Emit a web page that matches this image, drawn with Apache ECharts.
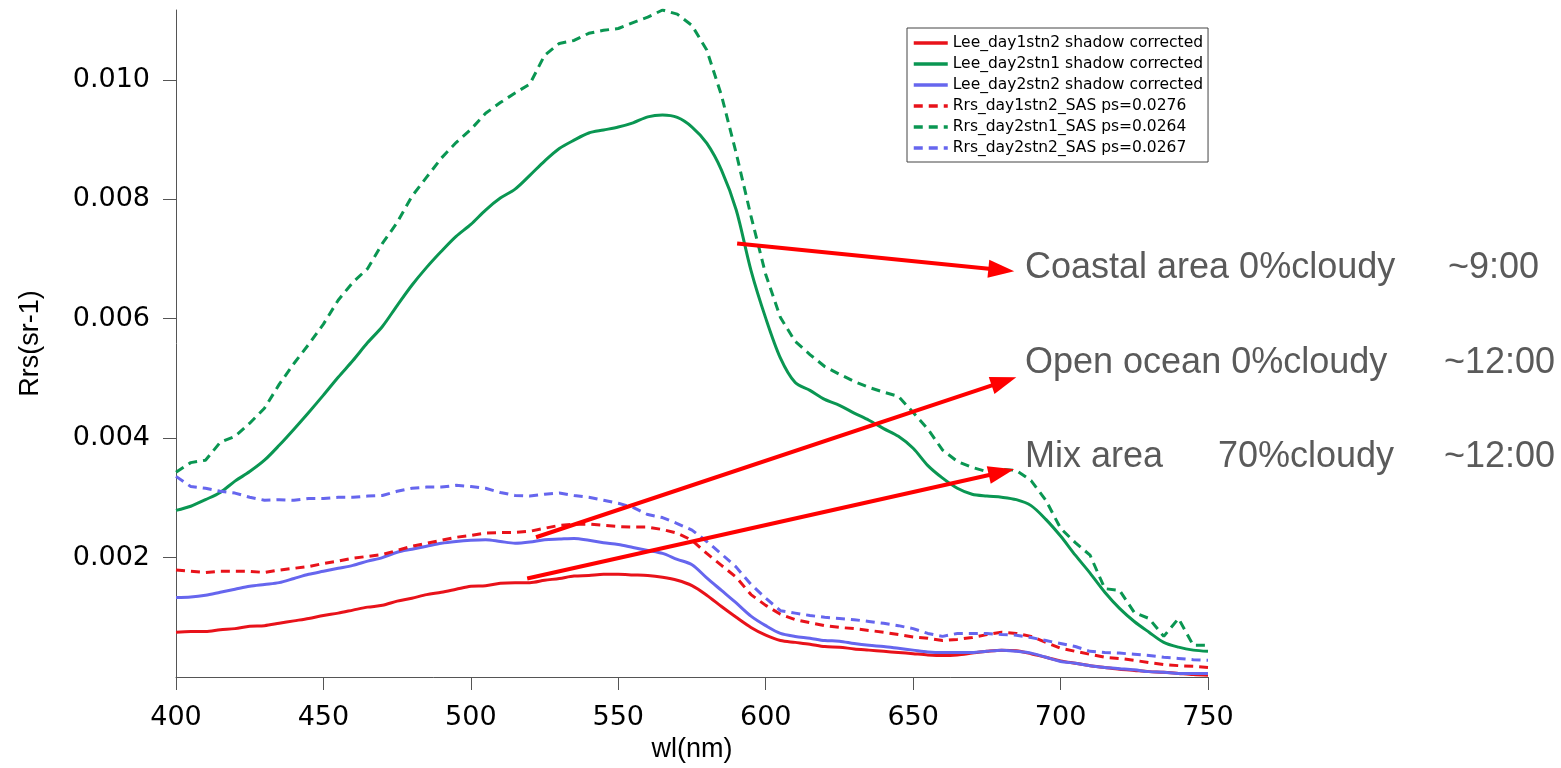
<!DOCTYPE html>
<html>
<head>
<meta charset="utf-8">
<script src="https://cdn.jsdelivr.net/npm/echarts@6/dist/echarts.min.js"></script>
<style>
html,body{margin:0;padding:0;background:#ffffff;}
#chart{width:1561px;height:768px;}
</style>
</head>
<body>
<div id="chart"></div>
<script>
// ---------------- data ----------------
const wavelengths = [400,405,410,415,420,425,430,435,440,445,450,455,460,465,470,475,480,485,490,495,500,505,510,515,520,525,530,535,540,545,550,555,560,565,570,575,580,585,590,595,600,605,610,615,620,625,630,635,640,645,650,655,660,665,670,675,680,685,690,695,700,705,710,715,720,725,730,735,740,745,750];

const leeDay1stn2 = [0.00075,0.00076,0.00076,0.00079,0.00081,0.00085,0.00086,0.00090,0.00094,0.00098,
  0.00103,0.00107,0.00112,0.00117,0.00120,0.00127,0.00132,0.00138,0.00142,0.00147,
  0.00152,0.00153,0.00157,0.00158,0.00158,0.00162,0.00165,0.00169,0.00170,0.00172,
  0.00172,0.00171,0.00170,0.00167,0.00162,0.00153,0.00137,0.00118,0.00100,0.00083,0.00070,
  0.00061,0.00058,0.00055,0.00051,0.00050,0.00047,0.00045,0.00043,0.00041,0.00039,
  0.00037,0.00036,0.00037,0.00040,0.00043,0.00045,0.00044,0.00039,0.00033,0.00027,
  0.00023,0.00019,0.00016,0.00013,0.00011,0.00009,0.00008,0.00006,0.00004,0.00003];

const leeDay2stn1 = [0.00279,0.00286,0.00297,0.00309,0.00328,0.00344,0.00363,0.00388,0.00415,0.00443,
  0.00472,0.00502,0.00530,0.00560,0.00587,0.00622,0.00656,0.00686,0.00713,0.00738,
  0.00758,0.00782,0.00802,0.00817,0.00840,0.00864,0.00885,0.00899,0.00911,0.00916,
  0.00921,0.00928,0.00938,0.00941,0.00937,0.00921,0.00894,0.00849,0.00782,0.00681,0.00601,
  0.00534,0.00493,0.00480,0.00465,0.00455,0.00442,0.00430,0.00416,0.00403,0.00383,
  0.00354,0.00333,0.00316,0.00306,0.00303,0.00301,0.00297,0.00287,0.00264,0.00236,
  0.00204,0.00174,0.00142,0.00115,0.00093,0.00075,0.00058,0.00050,0.00045,0.00043];

const leeDay2stn2 = [0.00133,0.00134,0.00137,0.00142,0.00147,0.00152,0.00155,0.00158,0.00165,0.00172,
  0.00177,0.00182,0.00187,0.00194,0.00200,0.00209,0.00214,0.00219,0.00224,0.00227,
  0.00229,0.00230,0.00227,0.00224,0.00226,0.00230,0.00231,0.00232,0.00229,0.00225,
  0.00222,0.00217,0.00212,0.00207,0.00197,0.00188,0.00166,0.00145,0.00124,0.00102,0.00086,
  0.00073,0.00068,0.00065,0.00061,0.00060,0.00056,0.00053,0.00051,0.00048,0.00045,
  0.00042,0.00041,0.00041,0.00041,0.00043,0.00045,0.00043,0.00040,0.00033,0.00026,
  0.00023,0.00019,0.00016,0.00014,0.00012,0.00009,0.00008,0.00006,0.00006,0.00006];

const rrsDay1stn2 = [0.00179,0.00177,0.00175,0.00177,0.00177,0.00177,0.00175,0.00179,0.00182,0.00185,
  0.00190,0.00194,0.00199,0.00202,0.00205,0.00212,0.00219,0.00224,0.00229,0.00234,
  0.00237,0.00241,0.00242,0.00242,0.00244,0.00249,0.00254,0.00256,0.00256,0.00254,
  0.00252,0.00251,0.00251,0.00247,0.00241,0.00229,0.00207,0.00187,0.00167,0.00138,0.00120,
  0.00105,0.00096,0.00091,0.00086,0.00083,0.00081,0.00078,0.00075,0.00071,0.00067,
  0.00065,0.00061,0.00063,0.00066,0.00071,0.00075,0.00073,0.00068,0.00058,0.00048,
  0.00043,0.00038,0.00033,0.00031,0.00028,0.00024,0.00021,0.00019,0.00018,0.00016];

const rrsDay2stn1 = [0.00343,0.00359,0.00363,0.00393,0.00403,0.00425,0.00450,0.00490,0.00525,0.00557,
  0.00591,0.00631,0.00661,0.00684,0.00726,0.00761,0.00805,0.00837,0.00869,0.00895,
  0.00917,0.00944,0.00962,0.00978,0.00993,0.01041,0.01061,0.01066,0.01078,0.01083,
  0.01086,0.01096,0.01105,0.01117,0.01110,0.01091,0.01050,0.00974,0.00877,0.00772,0.00674,
  0.00602,0.00562,0.00540,0.00520,0.00507,0.00495,0.00485,0.00477,0.00470,0.00443,
  0.00415,0.00380,0.00361,0.00351,0.00344,0.00348,0.00346,0.00329,0.00296,0.00249,
  0.00225,0.00204,0.00148,0.00145,0.00108,0.00098,0.00068,0.00098,0.00053,0.00053];

const rrsDay2stn2 = [0.00336,0.00319,0.00316,0.00311,0.00308,0.00301,0.00296,0.00297,0.00296,0.00299,
  0.00299,0.00301,0.00301,0.00303,0.00304,0.00311,0.00316,0.00318,0.00318,0.00321,
  0.00319,0.00316,0.00309,0.00304,0.00303,0.00306,0.00308,0.00304,0.00301,0.00296,
  0.00291,0.00284,0.00272,0.00267,0.00257,0.00246,0.00227,0.00206,0.00184,0.00155,0.00132,
  0.00111,0.00107,0.00103,0.00100,0.00098,0.00096,0.00093,0.00090,0.00086,0.00081,
  0.00073,0.00068,0.00073,0.00073,0.00073,0.00071,0.00070,0.00066,0.00061,0.00056,
  0.00051,0.00043,0.00041,0.00040,0.00038,0.00036,0.00033,0.00031,0.00029,0.00028];

const seriesNames = [
  'Lee_day1stn2 shadow corrected',
  'Lee_day2stn1 shadow corrected',
  'Lee_day2stn2 shadow corrected',
  'Rrs_day1stn2_SAS ps=0.0276',
  'Rrs_day2stn1_SAS ps=0.0264',
  'Rrs_day2stn2_SAS ps=0.0267'
];
const seriesValues = [leeDay1stn2, leeDay2stn1, leeDay2stn2, rrsDay1stn2, rrsDay2stn1, rrsDay2stn2];

const xTickValues = [400,450,500,550,600,650,700,750];
const yTickValues = [0.002,0.004,0.006,0.008,0.010];

// annotation arrows: [start, end] in data coordinates (wl, Rrs)
const arrowLines = [
  [[590.3, 0.00726], [679.9, 0.006816]],
  [[522.1, 0.00234], [680.8, 0.00495]],
  [[519.1, 0.00165], [679.95, 0.00343]]
];
const annotationTexts = [
  'Coastal area 0%cloudy', '~9:00',
  'Open ocean 0%cloudy', '~12:00',
  'Mix area', '70%cloudy', '~12:00'
];

// ---------------- styles ----------------
const colors = ['#e8121a', '#0a9652', '#6666ee', '#e8121a', '#0a9652', '#6666ee'];
const dashed = [false, false, false, true, true, true];

const chart = echarts.init(document.getElementById('chart'), null, {renderer: 'canvas'});

const series = seriesValues.map((vals, i) => ({
  name: seriesNames[i],
  type: 'line',
  data: wavelengths.map((w, j) => [w, vals[j]]),
  symbol: 'none',
  smooth: dashed[i] ? false : 0.3,
  animation: false,
  z: 2,
  lineStyle: {
    color: colors[i],
    width: 3,
    type: dashed[i] ? [9, 6] : 'solid'
  },
  itemStyle: {color: colors[i]},
  emphasis: {disabled: true}
}));

series.push({
  name: 'arrows',
  type: 'line',
  data: [],
  symbol: 'none',
  z: 10,
  animation: false,
  markLine: {
    silent: true,
    animation: false,
    symbol: ['none', 'triangle'],
    symbolSize: [18, 26],
    lineStyle: {color: '#ff0000', width: 4, type: 'solid'},
    label: {show: false},
    emphasis: {disabled: true},
    data: arrowLines.map(a => [{coord: a[0]}, {coord: a[1]}])
  }
});

const annFont = '36px "Liberation Sans", Arial, sans-serif';
const annPos = [
  [1025, 268], [1448, 268],
  [1025, 363], [1444, 363],
  [1025, 457], [1218, 457], [1444, 457]
];

const option = {
  backgroundColor: '#ffffff',
  animation: false,
  grid: {left: 176, right: 353, top: 10, bottom: 91, containLabel: false},
  xAxis: {
    type: 'value',
    min: 400, max: 750, interval: 50,
    name: 'wl(nm)',
    nameLocation: 'middle',
    nameGap: 58,
    nameTextStyle: {fontFamily: '"Liberation Sans", Arial, sans-serif', fontSize: 27, color: '#000'},
    axisLine: {show: true, lineStyle: {color: '#555', width: 1}},
    axisTick: {show: true, inside: false, length: 13, lineStyle: {color: '#555'}, customValues: xTickValues},
    axisLabel: {
      customValues: xTickValues,
      margin: 27,
      fontFamily: '"DejaVu Sans", sans-serif',
      fontSize: 27,
      color: '#000'
    },
    splitLine: {show: false}
  },
  yAxis: {
    type: 'value',
    min: 0, max: 0.01117, interval: 0.002,
    name: 'Rrs(sr-1)',
    nameLocation: 'middle',
    nameGap: 132,
    nameRotate: 90,
    nameTextStyle: {fontFamily: '"Liberation Sans", Arial, sans-serif', fontSize: 27, color: '#000'},
    axisLine: {show: true, lineStyle: {color: '#555', width: 1}},
    axisTick: {show: true, inside: false, length: 13, lineStyle: {color: '#555'}, customValues: yTickValues},
    axisLabel: {
      customValues: yTickValues,
      margin: 26,
      fontFamily: '"DejaVu Sans", sans-serif',
      fontSize: 27,
      color: '#000',
      formatter: v => v.toFixed(3)
    },
    splitLine: {show: false}
  },
  legend: {
    data: seriesNames,
    orient: 'vertical',
    left: 907,
    top: 28,
    padding: [7, 5, 6, 5],
    itemWidth: 34,
    itemHeight: 14,
    itemGap: 5,
    backgroundColor: '#ffffff',
    borderColor: '#444',
    borderWidth: 1,
    borderRadius: 0,
    selectedMode: false,
    itemStyle: {opacity: 0, color: 'rgba(0,0,0,0)', borderWidth: 0},
    lineStyle: {width: 3.5},
    textStyle: {fontFamily: '"DejaVu Sans", sans-serif', fontSize: 15.5, lineHeight: 15, color: '#000'}
  },
  graphic: annotationTexts.map((t, i) => ({
    type: 'text',
    x: annPos[i][0],
    y: annPos[i][1],
    silent: true,
    z: 20,
    style: {
      text: t,
      font: annFont,
      fill: '#5a5a5a',
      align: 'left',
      verticalAlign: 'middle',
      textAlign: 'left',
      textVerticalAlign: 'middle'
    }
  })),
  series: series
};

chart.setOption(option);
</script>
</body>
</html>
